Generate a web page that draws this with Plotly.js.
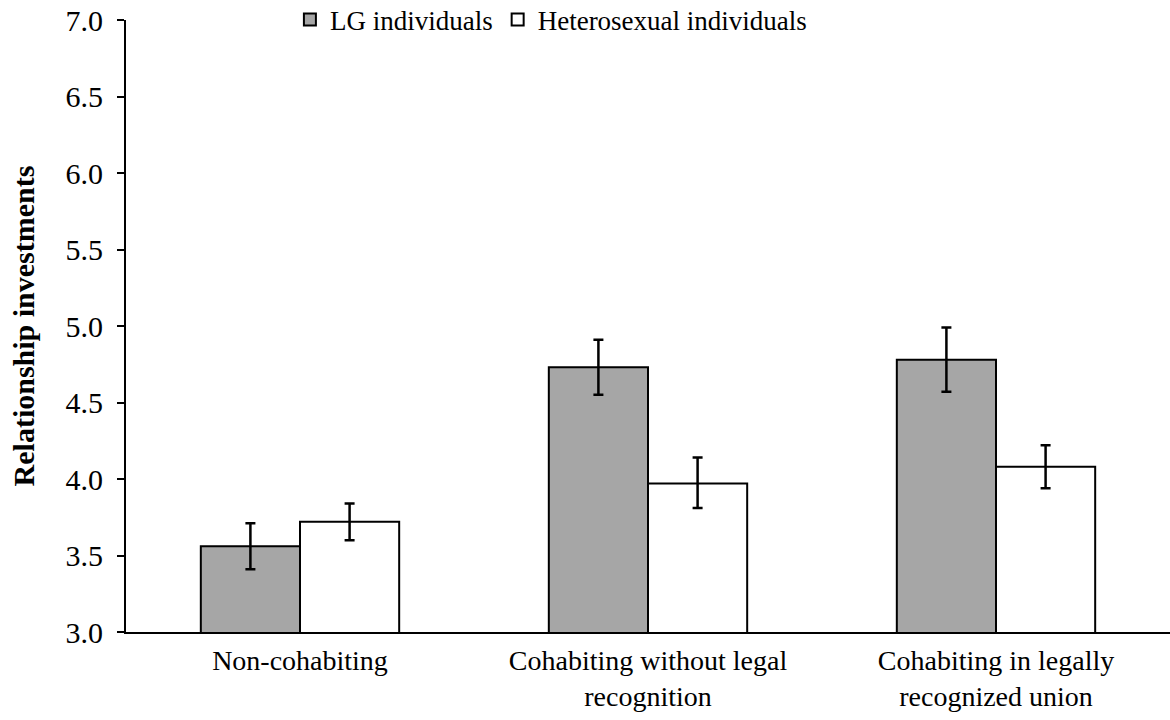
<!DOCTYPE html>
<html>
<head>
<meta charset="utf-8">
<script src="https://cdn.plot.ly/plotly-3.0.1.min.js"></script>
<style>html,body{margin:0;padding:0;background:#fff;}#chart{width:1170px;height:720px;}</style>
</head>
<body>
<div id="chart"></div>
<script>
const categories = ["Non-cohabiting", "Cohabiting without legal<br>recognition", "Cohabiting in legally<br>recognized union"];
const lgValues = [3.56, 4.73, 4.78];
const lgErrPlus = [0.15, 0.18, 0.21];
const lgErrMinus = [0.15, 0.18, 0.21];
const heteroValues = [3.72, 3.97, 4.08];
const heteroErrPlus = [0.12, 0.17, 0.14];
const heteroErrMinus = [0.12, 0.16, 0.14];
const yTicks = [3.0, 3.5, 4.0, 4.5, 5.0, 5.5, 6.0, 6.5, 7.0];
const yTickLabels = ["3.0", "3.5", "4.0", "4.5", "5.0", "5.5", "6.0", "6.5", "7.0"];

const font = "Liberation Serif, Times New Roman, serif";
const errStyle = {type: "data", symmetric: false, color: "#000", thickness: 2.5, width: 5};

const traces = [
  {
    type: "bar", name: "LG individuals", x: categories, y: lgValues,
    marker: {color: "#a6a6a6", line: {color: "#000", width: 2}},
    error_y: Object.assign({array: lgErrPlus, arrayminus: lgErrMinus}, errStyle)
  },
  {
    type: "bar", name: "Heterosexual individuals", x: categories, y: heteroValues,
    marker: {color: "#ffffff", line: {color: "#000", width: 2}},
    error_y: Object.assign({array: heteroErrPlus, arrayminus: heteroErrMinus}, errStyle)
  }
];

const layout = {
  width: 1170, height: 720,
  margin: {l: 126, r: 0, t: 20, b: 88, autoexpand: false},
  paper_bgcolor: "#fff", plot_bgcolor: "#fff",
  font: {family: font, color: "#000", size: 27},
  barmode: "group", bargap: 0.43, bargroupgap: 0,
  showlegend: true,
  legend: {
    orientation: "h", x: 0.157, xanchor: "left", y: 1.0, yanchor: "middle",
    font: {family: font, size: 27, color: "#000"}, bgcolor: "rgba(0,0,0,0)",
    itemwidth: 30, tracegroupgap: 0
  },
  xaxis: {
    automargin: false,
    showline: true, linecolor: "#000", linewidth: 2, ticks: "",
    ticklabelstandoff: 2,
    showgrid: false, zeroline: false, tickfont: {family: font, size: 28, color: "#000"}
  },
  yaxis: {
    automargin: false,
    range: [3.0, 7.0], tickmode: "array", tickvals: yTicks, ticktext: yTickLabels,
    showline: true, linecolor: "#000", linewidth: 2, ticks: "outside", ticklen: 7, tickwidth: 2, tickcolor: "#000",
    ticklabelstandoff: 8,
    showgrid: false, zeroline: false, tickfont: {family: font, size: 30, color: "#000"},
    title: {text: "<b>Relationship investments</b>", font: {family: font, size: 30, color: "#000"}, standoff: 22}
  }
};

Plotly.newPlot("chart", traces, layout, {displayModeBar: false, staticPlot: true});
</script>
</body>
</html>
